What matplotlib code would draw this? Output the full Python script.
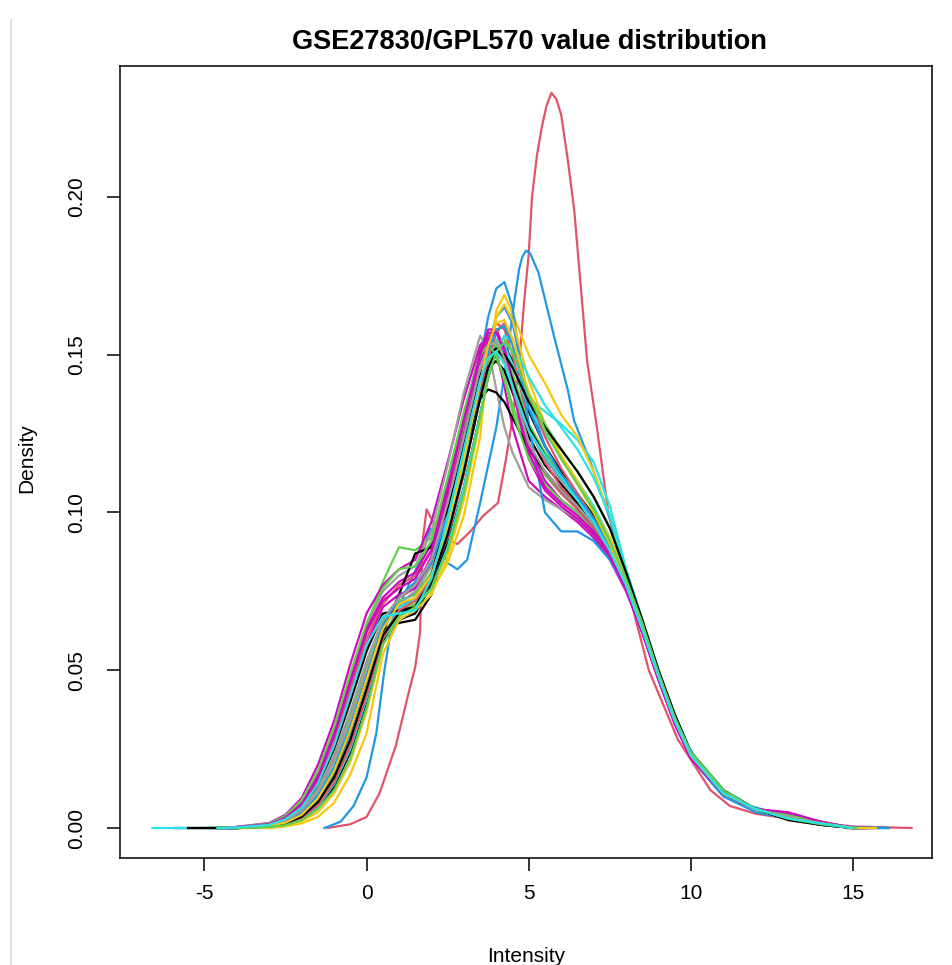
import matplotlib
matplotlib.use("Agg")
import matplotlib.pyplot as plt
from matplotlib.lines import Line2D

plt.rcParams['font.family'] = ['Liberation Sans', 'DejaVu Sans']
plt.rcParams['axes.unicode_minus'] = False

# R 4.x default palette, used in turn by the curves
palette = ["#000000", "#DF536B", "#61D04F", "#2297E6",
           "#28E2E5", "#CD0BBC", "#F5C710", "#9E9E9E"]

# shared x grid for the bundle of sample densities
grid_x = [-4, -3, -2.5, -2, -1.5, -1, -0.5, 0, 0.5, 1, 1.5, 2, 2.5, 3, 3.5, 3.75,
          4, 4.25, 4.5, 5, 5.5, 6, 6.5, 7, 7.5, 8, 8.5, 9, 9.5, 10, 11, 12, 13, 14, 15]

bundle = [
    [0, 0.0008, 0.002, 0.005, 0.011, 0.021, 0.035, 0.051, 0.063, 0.065, 0.066, 0.074, 0.092, 0.114, 0.138, 0.146, 0.148, 0.145, 0.138, 0.124, 0.115, 0.109, 0.103, 0.095, 0.086, 0.076, 0.063, 0.048, 0.034, 0.023, 0.011, 0.006, 0.003, 0.0015, 0],
    [0.0003, 0.0012, 0.003, 0.007, 0.015, 0.027, 0.044, 0.06, 0.071, 0.077, 0.08, 0.088, 0.106, 0.127, 0.148, 0.156, 0.158, 0.152, 0.141, 0.122, 0.112, 0.106, 0.101, 0.094, 0.086, 0.076, 0.062, 0.047, 0.033, 0.022, 0.01, 0.006, 0.004, 0.002, 0],
    [0.0003, 0.0013, 0.0035, 0.008, 0.017, 0.03, 0.047, 0.064, 0.078, 0.089, 0.088, 0.092, 0.108, 0.127, 0.146, 0.15, 0.149, 0.143, 0.134, 0.12, 0.112, 0.107, 0.102, 0.096, 0.087, 0.077, 0.064, 0.049, 0.034, 0.023, 0.011, 0.006, 0.0035, 0.0015, 0],
    [0, 0.0004, 0.0012, 0.003, 0.007, 0.014, 0.026, 0.042, 0.06, 0.07, 0.073, 0.08, 0.095, 0.115, 0.14, 0.153, 0.162, 0.165, 0.16, 0.136, 0.121, 0.112, 0.105, 0.098, 0.089, 0.078, 0.064, 0.048, 0.034, 0.023, 0.011, 0.006, 0.003, 0.0015, 0],
    [0, 0.0006, 0.0018, 0.0045, 0.01, 0.019, 0.032, 0.049, 0.064, 0.072, 0.074, 0.079, 0.094, 0.115, 0.137, 0.146, 0.152, 0.151, 0.146, 0.136, 0.132, 0.128, 0.123, 0.116, 0.102, 0.082, 0.065, 0.049, 0.035, 0.024, 0.012, 0.006, 0.003, 0.0015, 0],
    [0.0004, 0.0016, 0.0042, 0.0095, 0.02, 0.034, 0.052, 0.068, 0.077, 0.082, 0.085, 0.097, 0.116, 0.136, 0.153, 0.156, 0.151, 0.14, 0.127, 0.11, 0.105, 0.101, 0.097, 0.092, 0.085, 0.075, 0.062, 0.047, 0.034, 0.023, 0.011, 0.006, 0.0045, 0.002, 0],
    [0, 0.0002, 0.0008, 0.0022, 0.005, 0.011, 0.021, 0.037, 0.058, 0.068, 0.071, 0.075, 0.084, 0.099, 0.124, 0.148, 0.164, 0.169, 0.163, 0.15, 0.141, 0.131, 0.124, 0.113, 0.099, 0.081, 0.065, 0.049, 0.035, 0.024, 0.012, 0.006, 0.003, 0.0015, 0],
    [0.0003, 0.0014, 0.0038, 0.0088, 0.018, 0.031, 0.048, 0.064, 0.075, 0.08, 0.083, 0.094, 0.115, 0.138, 0.156, 0.152, 0.139, 0.127, 0.119, 0.108, 0.104, 0.101, 0.098, 0.093, 0.086, 0.076, 0.063, 0.048, 0.034, 0.023, 0.011, 0.006, 0.004, 0.002, 0],
    [0, 0.0003, 0.001, 0.0028, 0.0065, 0.013, 0.024, 0.04, 0.059, 0.066, 0.068, 0.077, 0.09, 0.108, 0.131, 0.143, 0.151, 0.153, 0.148, 0.132, 0.121, 0.113, 0.106, 0.099, 0.091, 0.08, 0.065, 0.049, 0.035, 0.023, 0.011, 0.006, 0.003, 0.001, 0],
    [0, 0.0009, 0.0023, 0.0055, 0.012, 0.022, 0.036, 0.052, 0.066, 0.073, 0.076, 0.084, 0.101, 0.122, 0.145, 0.155, 0.16, 0.158, 0.15, 0.128, 0.116, 0.108, 0.102, 0.095, 0.087, 0.077, 0.063, 0.048, 0.034, 0.023, 0.011, 0.006, 0.003, 0.0015, 0],
    [0, 0.0009, 0.0022, 0.0052, 0.0115, 0.021, 0.035, 0.051, 0.065, 0.072, 0.074, 0.081, 0.098, 0.119, 0.141, 0.149, 0.153, 0.151, 0.144, 0.128, 0.119, 0.112, 0.106, 0.098, 0.089, 0.078, 0.064, 0.049, 0.035, 0.023, 0.011, 0.006, 0.003, 0.0015, 0],
    [0, 0.0005, 0.0015, 0.0038, 0.0085, 0.017, 0.03, 0.047, 0.063, 0.071, 0.075, 0.083, 0.099, 0.122, 0.148, 0.162, 0.171, 0.173, 0.165, 0.128, 0.1, 0.094, 0.094, 0.091, 0.085, 0.076, 0.063, 0.048, 0.034, 0.022, 0.01, 0.005, 0.003, 0.001, 0],
    [0, 0.0007, 0.002, 0.0048, 0.0105, 0.02, 0.033, 0.049, 0.064, 0.07, 0.072, 0.08, 0.097, 0.118, 0.141, 0.15, 0.155, 0.153, 0.147, 0.133, 0.125, 0.118, 0.11, 0.102, 0.092, 0.08, 0.065, 0.049, 0.035, 0.024, 0.012, 0.006, 0.003, 0.0015, 0],
    [0.0003, 0.0013, 0.0035, 0.008, 0.017, 0.03, 0.047, 0.063, 0.073, 0.078, 0.081, 0.09, 0.109, 0.131, 0.151, 0.158, 0.158, 0.151, 0.139, 0.117, 0.107, 0.102, 0.098, 0.093, 0.086, 0.076, 0.062, 0.047, 0.033, 0.022, 0.011, 0.006, 0.0045, 0.002, 0],
    [0, 0, 0.0005, 0.0015, 0.0035, 0.008, 0.017, 0.03, 0.055, 0.066, 0.069, 0.074, 0.086, 0.104, 0.129, 0.15, 0.162, 0.166, 0.161, 0.142, 0.128, 0.118, 0.11, 0.101, 0.092, 0.08, 0.065, 0.049, 0.035, 0.024, 0.012, 0.006, 0.003, 0.0015, 0],
    [0, 0.0008, 0.0021, 0.005, 0.011, 0.021, 0.034, 0.05, 0.064, 0.071, 0.075, 0.083, 0.1, 0.121, 0.143, 0.15, 0.151, 0.148, 0.141, 0.126, 0.117, 0.11, 0.104, 0.097, 0.088, 0.077, 0.063, 0.048, 0.034, 0.023, 0.011, 0.006, 0.0035, 0.0015, 0],
    [0, 0.0006, 0.0017, 0.0042, 0.0095, 0.018, 0.031, 0.047, 0.062, 0.074, 0.087, 0.089, 0.101, 0.119, 0.136, 0.139, 0.138, 0.135, 0.13, 0.12, 0.113, 0.107, 0.102, 0.096, 0.088, 0.077, 0.063, 0.048, 0.034, 0.023, 0.011, 0.006, 0.003, 0.0015, 0],
    [0, 0.0005, 0.0014, 0.0035, 0.008, 0.016, 0.028, 0.044, 0.061, 0.069, 0.071, 0.078, 0.093, 0.113, 0.136, 0.147, 0.154, 0.155, 0.151, 0.138, 0.128, 0.12, 0.113, 0.105, 0.095, 0.081, 0.066, 0.05, 0.036, 0.024, 0.012, 0.006, 0.003, 0.0015, 0],
    [0.0002, 0.0011, 0.003, 0.0068, 0.0145, 0.026, 0.042, 0.058, 0.07, 0.074, 0.076, 0.086, 0.104, 0.125, 0.147, 0.155, 0.157, 0.152, 0.142, 0.121, 0.11, 0.104, 0.1, 0.094, 0.087, 0.076, 0.062, 0.047, 0.034, 0.023, 0.011, 0.006, 0.0045, 0.002, 0],
    [0, 0.0004, 0.0011, 0.003, 0.0068, 0.014, 0.025, 0.041, 0.06, 0.068, 0.07, 0.076, 0.089, 0.108, 0.131, 0.143, 0.152, 0.156, 0.154, 0.143, 0.134, 0.127, 0.12, 0.111, 0.099, 0.082, 0.066, 0.05, 0.036, 0.024, 0.012, 0.006, 0.003, 0.0012, 0],
    [0.0002, 0.001, 0.0027, 0.0062, 0.0135, 0.025, 0.04, 0.056, 0.068, 0.069, 0.07, 0.08, 0.099, 0.121, 0.143, 0.15, 0.152, 0.149, 0.142, 0.127, 0.118, 0.111, 0.105, 0.097, 0.088, 0.077, 0.063, 0.048, 0.034, 0.023, 0.011, 0.006, 0.003, 0.0015, 0],
    [0, 0.0004, 0.0012, 0.0032, 0.0072, 0.0145, 0.026, 0.042, 0.06, 0.069, 0.072, 0.079, 0.092, 0.112, 0.137, 0.149, 0.157, 0.16, 0.155, 0.137, 0.124, 0.114, 0.106, 0.098, 0.089, 0.078, 0.064, 0.049, 0.035, 0.023, 0.011, 0.006, 0.0035, 0.0015, 0],
    [0.0003, 0.0014, 0.0038, 0.0087, 0.018, 0.032, 0.049, 0.065, 0.076, 0.082, 0.083, 0.091, 0.111, 0.132, 0.15, 0.153, 0.15, 0.142, 0.132, 0.117, 0.109, 0.104, 0.1, 0.094, 0.087, 0.077, 0.063, 0.048, 0.034, 0.023, 0.011, 0.006, 0.004, 0.002, 0],
    [0, 0.0007, 0.0019, 0.0046, 0.0102, 0.019, 0.032, 0.048, 0.064, 0.073, 0.078, 0.084, 0.099, 0.118, 0.14, 0.151, 0.158, 0.159, 0.153, 0.133, 0.121, 0.112, 0.105, 0.098, 0.089, 0.078, 0.064, 0.048, 0.034, 0.023, 0.011, 0.006, 0.003, 0.0015, 0],
    [0.0003, 0.0012, 0.0033, 0.0075, 0.016, 0.029, 0.046, 0.062, 0.072, 0.076, 0.079, 0.088, 0.107, 0.129, 0.15, 0.157, 0.157, 0.151, 0.14, 0.119, 0.108, 0.103, 0.099, 0.094, 0.087, 0.076, 0.062, 0.047, 0.033, 0.022, 0.011, 0.006, 0.005, 0.002, 0],
    [0, 0.0005, 0.0014, 0.0036, 0.0082, 0.016, 0.028, 0.044, 0.061, 0.068, 0.07, 0.078, 0.093, 0.113, 0.136, 0.146, 0.151, 0.15, 0.146, 0.135, 0.127, 0.12, 0.113, 0.105, 0.095, 0.081, 0.066, 0.05, 0.036, 0.024, 0.012, 0.006, 0.0025, 0.001, 0],
    [0.0001, 0.0009, 0.0024, 0.0057, 0.0125, 0.023, 0.037, 0.053, 0.066, 0.073, 0.077, 0.085, 0.103, 0.124, 0.146, 0.153, 0.154, 0.149, 0.14, 0.122, 0.113, 0.107, 0.102, 0.096, 0.088, 0.077, 0.063, 0.048, 0.034, 0.023, 0.011, 0.006, 0.0035, 0.0015, 0],
    [0, 0.0006, 0.0017, 0.0042, 0.0094, 0.018, 0.031, 0.047, 0.063, 0.071, 0.073, 0.08, 0.096, 0.117, 0.141, 0.153, 0.16, 0.161, 0.155, 0.138, 0.126, 0.117, 0.109, 0.1, 0.09, 0.078, 0.064, 0.049, 0.035, 0.023, 0.011, 0.006, 0.003, 0.0015, 0],
    [0, 0.0003, 0.0009, 0.0025, 0.006, 0.012, 0.022, 0.038, 0.058, 0.067, 0.07, 0.076, 0.088, 0.106, 0.13, 0.143, 0.151, 0.154, 0.151, 0.137, 0.126, 0.117, 0.109, 0.101, 0.091, 0.079, 0.065, 0.049, 0.035, 0.024, 0.012, 0.006, 0.003, 0.0012, 0],
    [0.0002, 0.001, 0.0028, 0.0065, 0.014, 0.026, 0.042, 0.058, 0.067, 0.068, 0.069, 0.079, 0.098, 0.12, 0.142, 0.149, 0.151, 0.147, 0.14, 0.126, 0.118, 0.111, 0.104, 0.097, 0.088, 0.077, 0.063, 0.048, 0.034, 0.023, 0.011, 0.006, 0.003, 0.0015, 0],
]
bundle_colors = [0, 1, 2, 3, 4, 5, 6, 7, 0, 1, 2, 3, 4, 5, 6, 7,
                 0, 2, 5, 4, 0, 1, 2, 3, 5, 0, 7, 6, 2, 4]
# where each density curve begins and ends (y = 0 there)
bundle_start = [-5.9, -4.4, -5.1, -4.2, -6.6, -4.0, -3.8, -4.5, -4.3, -4.1, -4.6, -4.0,
                -4.4, -4.2, -3.7, -4.3, -4.8, -4.0, -4.5, -3.9, -4.6, -4.0, -4.7, -4.2,
                -4.2, -5.5, -4.4, -4.0, -3.9, -4.6]
bundle_end = [15.0, 15.3, 15.2, 16.1, 15.1, 15.4, 15.6, 15.3, 14.9, 15.2, 15.0, 15.8,
              15.1, 15.5, 15.4, 15.2, 15.0, 15.1, 15.5, 15.3, 14.8, 15.2, 15.0, 15.6,
              15.3, 15.0, 15.2, 15.7, 15.1, 15.0]

# two outlying samples
red_x = [-1.2, -0.5, 0.0, 0.4, 0.9, 1.3, 1.5, 1.65, 1.72, 1.85, 2.05, 2.4, 2.8, 3.2, 3.6,
         4.05, 4.3, 4.5, 4.7, 4.85, 5.0, 5.1, 5.25, 5.4, 5.55, 5.7, 5.85, 6.0, 6.2, 6.4,
         6.6, 6.8, 7.1, 7.45, 8.0, 8.7, 9.6, 10.6, 11.2, 12.0, 13.0, 14.0, 15.0, 16.8]
red_y = [0.0, 0.0012, 0.0035, 0.011, 0.026, 0.043, 0.051, 0.062, 0.09, 0.101, 0.097, 0.092,
         0.09, 0.094, 0.099, 0.103, 0.117, 0.13, 0.146, 0.166, 0.182, 0.2, 0.213, 0.222,
         0.229, 0.233, 0.231, 0.226, 0.212, 0.196, 0.172, 0.148, 0.127, 0.1, 0.078, 0.05,
         0.028, 0.012, 0.007, 0.0045, 0.003, 0.0015, 0.0005, 0.0]
blue_x = [-1.3, -0.8, -0.4, 0.0, 0.3, 0.55, 0.8, 1.3, 1.7, 1.95, 2.2, 2.5, 2.8, 3.1, 3.5,
          4.0, 4.3, 4.5, 4.7, 4.8, 4.92, 5.05, 5.3, 5.8, 6.2, 6.4, 6.9, 7.5, 8.0, 8.6, 9.2,
          9.8, 10.5, 11.5, 12.5, 13.5, 14.5, 16.1]
blue_y = [0.0, 0.002, 0.007, 0.016, 0.03, 0.05, 0.066, 0.077, 0.086, 0.095, 0.09, 0.084,
          0.082, 0.085, 0.103, 0.127, 0.147, 0.163, 0.177, 0.181, 0.183, 0.182, 0.176, 0.155,
          0.139, 0.129, 0.116, 0.098, 0.08, 0.062, 0.044, 0.028, 0.016, 0.008, 0.005, 0.002,
          0.0005, 0.0]

x_ticks = [-5, 0, 5, 10, 15]
y_ticks = [0.0, 0.05, 0.10, 0.15, 0.20]
y_ticklabels = ["0.00", "0.05", "0.10", "0.15", "0.20"]

fig = plt.figure(figsize=(9.52, 9.65), dpi=100)
ax = fig.add_axes([120 / 952, 1 - 858 / 965, 812 / 952, 792 / 965])

ax.plot(red_x, red_y, color=palette[1], lw=1.6)
ax.plot(blue_x, blue_y, color=palette[3], lw=1.6)
for vals, ci, x0, x1 in zip(bundle, bundle_colors, bundle_start, bundle_end):
    xs = [x0] + grid_x + [x1]
    ys = [0] + vals + [0]
    ax.plot(xs, ys, color=palette[ci], lw=1.6, solid_joinstyle='round')

ax.set_xlim(-7.6, 17.43)
ax.set_ylim(-0.0095, 0.2415)
ax.set_xticks(x_ticks)
ax.set_yticks(y_ticks)
ax.set_yticklabels(y_ticklabels, rotation=90, va='center')
ax.tick_params(direction='out', length=9.5, width=1.1, labelsize=15)
ax.tick_params(axis='x', pad=9)
ax.tick_params(axis='y', pad=15)
for s in ax.spines.values():
    s.set_linewidth(1.1)

fig.text(529 / 952, 1 - 42 / 965, "GSE27830/GPL570 value distribution",
         ha='center', va='center', fontsize=19.5, fontweight='bold')
fig.text(27 / 952, 1 - 458 / 965, "Density", rotation=90, ha='center', va='center', fontsize=15)
fig.text(526 / 952, 1 - 957 / 965, "Intensity", ha='center', va='center', fontsize=15)

# thin page border at the left of the screenshot
fig.add_artist(Line2D([11 / 952, 11 / 952], [0, 1 - 20 / 965], transform=fig.transFigure,
                      color="#d6e2ec", lw=1.5))

fig.savefig("out.png", dpi=100)
